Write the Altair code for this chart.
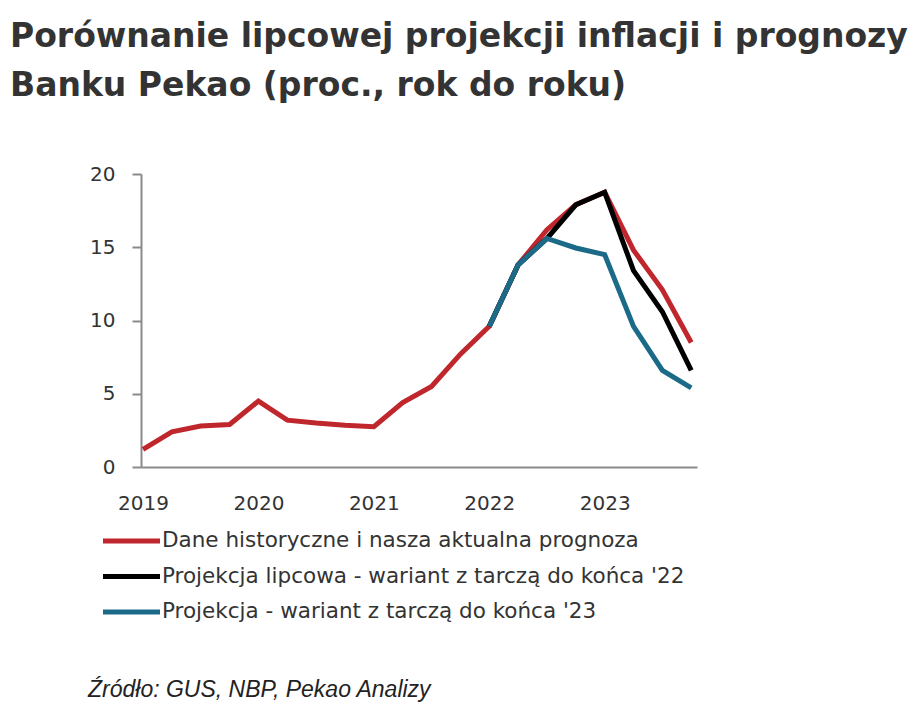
import altair as alt
import pandas as pd

quarters = ["2019Q1","2019Q2","2019Q3","2019Q4","2020Q1","2020Q2","2020Q3","2020Q4",
            "2021Q1","2021Q2","2021Q3","2021Q4","2022Q1","2022Q2","2022Q3","2022Q4",
            "2023Q1","2023Q2","2023Q3","2023Q4"]
hist = [1.2, 2.4, 2.8, 2.9, 4.5, 3.2, 3.0, 2.85, 2.75, 4.4, 5.5, 7.7, 9.6, 13.8, 16.2, 17.9,
        18.75, 14.8, 12.1, 8.5]
proj22 = [None]*12 + [9.6, 13.8, 15.6, 17.9, 18.75, 13.4, 10.6, 6.6]
proj23 = [None]*12 + [9.6, 13.8, 15.6, 14.95, 14.5, 9.6, 6.6, 5.4]
series_names = ["Dane historyczne i nasza aktualna prognoza",
                "Projekcja lipcowa - wariant z tarczą do końca '22",
                "Projekcja - wariant z tarczą do końca '23"]
series_colors = ["#C0272D", "#000000", "#1B6B88"]
year_labels = ["2019", "2020", "2021", "2022", "2023"]
y_ticks = [0, 5, 10, 15, 20]
title_lines = ["Porównanie lipcowej projekcji inflacji i prognozy",
               "Banku Pekao (proc., rok do roku)"]
source_text = "Źródło: GUS, NBP, Pekao Analizy"

rows = []
for name, vals in zip(series_names, [hist, proj22, proj23]):
    for i, v in enumerate(vals):
        if v is not None:
            rows.append({"t": i, "q": quarters[i], "value": v, "series": name,
                         "order": series_names.index(name)})
df = pd.DataFrame(rows)
legend_df = pd.DataFrame({"series": series_names, "idx": list(range(len(series_names)))})

year_pos = [quarters.index(y + "Q1") for y in year_labels]
label_expr = " : ".join(
    [f"datum.value == {p} ? '{y}'" for p, y in zip(year_pos, year_labels)]) + " : ''"

tick_font = "DejaVu Sans"
color_scale = alt.Scale(domain=series_names, range=series_colors)

lines = alt.Chart(df).mark_line(strokeWidth=5, strokeJoin="miter").encode(
    x=alt.X("t:Q", scale=alt.Scale(domain=[-0.07, 19.2], nice=False),
            axis=alt.Axis(values=year_pos, labelExpr=label_expr, title=None, grid=False,
                          tickSize=0, labelPadding=26, labelFontSize=20,
                          labelFont=tick_font, labelColor="#333333",
                          domainColor="#8a8a8a", domainWidth=2)),
    y=alt.Y("value:Q", scale=alt.Scale(domain=[0, 20], nice=False),
            axis=alt.Axis(values=y_ticks, title=None, grid=False, tickSize=9,
                          tickColor="#8a8a8a", tickWidth=2, labelPadding=17,
                          labelFontSize=20, labelFont=tick_font, labelColor="#333333",
                          domainColor="#8a8a8a", domainWidth=2)),
    color=alt.Color("series:N", scale=color_scale, legend=None),
    order=alt.Order("order:Q"),
    detail="series:N",
)

leg_y = alt.Y("idx:Q", scale=alt.Scale(domain=[0, 2], range=[367, 438], nice=False, zero=False),
              axis=None)
legend_lines = alt.Chart(legend_df).mark_rule(strokeWidth=5).encode(
    x=alt.value(-38), x2=alt.value(19), y=leg_y,
    color=alt.Color("series:N", scale=color_scale, legend=None),
)
legend_text = alt.Chart(legend_df).mark_text(
    align="left", baseline="middle", fontSize=21.5, font=tick_font, color="#333333",
    dx=0).encode(
    x=alt.value(21), y=leg_y, text="series:N",
)

title1 = alt.Chart(pd.DataFrame({"text": [title_lines[0]]})).mark_text(
    align="left", baseline="alphabetic", fontSize=33, fontWeight="bold",
    font="DejaVu Sans", color="#333333").encode(
    text="text:N", x=alt.value(-131), y=alt.value(-127))
title2 = alt.Chart(pd.DataFrame({"text": [title_lines[1]]})).mark_text(
    align="left", baseline="alphabetic", fontSize=33, fontWeight="bold",
    font="DejaVu Sans", color="#333333").encode(
    text="text:N", x=alt.value(-131), y=alt.value(-78))
source = alt.Chart(pd.DataFrame({"text": [source_text]})).mark_text(
    align="left", baseline="middle", fontSize=23, fontStyle="italic",
    font="Liberation Sans", color="#222222").encode(
    text="text:N", x=alt.value(-53), y=alt.value(516))

chart = alt.layer(lines, legend_lines, legend_text, title1, title2, source).resolve_scale(
    y="independent"
).properties(
    width=556, height=293,
    autosize=alt.AutoSizeParams(type="none"),
    padding={"left": 133, "top": 166, "right": 215, "bottom": 248},
).configure_view(stroke=None)

chart.save("out.html", embed_options={"renderer": "svg", "actions": False})
